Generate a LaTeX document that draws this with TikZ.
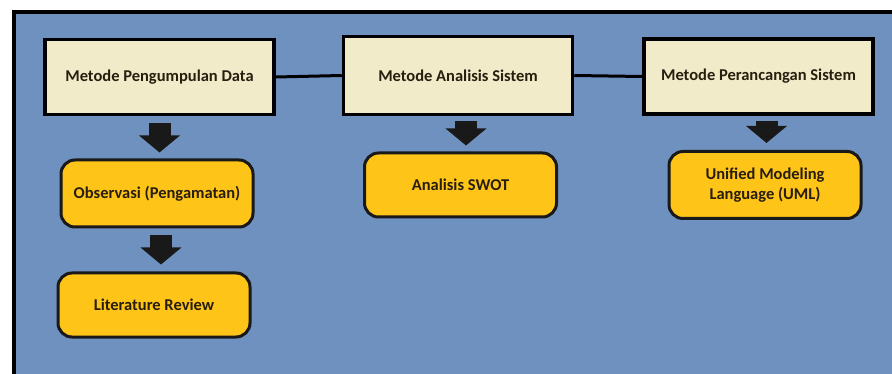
\documentclass[tikz,border=0pt]{standalone}
\usepackage{fontspec}
\setmainfont{Carlito}
\usetikzlibrary{arrows.meta}
\definecolor{bgblue}{RGB}{111,145,191}
\definecolor{krem}{RGB}{242,235,201}
\definecolor{emas}{RGB}{254,196,24}
\definecolor{tinta}{RGB}{40,30,15}

\begin{document}
\begin{tikzpicture}[x=1pt,y=-1pt,
		metode/.style={draw=black,fill=krem,line width=3.5pt,minimum width=229pt,minimum height=75pt,text=tinta,font=\fontsize{16.5}{18}\selectfont\bfseries},
		hasil/.style={draw=black!90,fill=emas,line width=3pt,rounded corners=14pt,minimum width=192pt,minimum height=64pt,text=tinta,align=center,font=\fontsize{16.5}{20}\selectfont\bfseries},
		panah/.style={line width=22pt,black!90,-{Triangle[length=17pt,width=40pt]}},
		garis/.style={line width=3pt}]
		\useasboundingbox (0,0) rectangle (892,374);
		\fill[white] (0,0) rectangle (892,374);
		\fill[bgblue] (14,12) rectangle (892,374);
		\draw[line width=3.5pt] (14,374) -- (14,12) -- (892,12);

		\node[metode] (m1) at (159.5,77) {Metode Pengumpulan Data};
		\node[metode,minimum height=78pt] (m2) at (458,75.5) {Metode Analisis Sistem};
		\node[metode] (m3) at (758.5,76.5) {Metode Perancangan Sistem};

		\draw[garis] (m1.east) -- (m2.west);
		\draw[garis] (m2.east) -- (m3.west);

		\node[hasil,minimum height=67pt] (obs) at (157,193.5) {Observasi (Pengamatan)};
		\node[hasil] (lit) at (154,305) {Literature Review};
		\node[hasil] (swot) at (460.5,185) {Analisis SWOT};
		\node[hasil,minimum height=67pt] (uml) at (765,185) {Unified Modeling\\Language (UML)};

		\draw[panah] ([yshift=-7pt]m1.south) -- ([yshift=6pt]m1.south |- obs.north);
		\draw[panah] ([xshift=4pt,yshift=-7pt]obs.south) -- ([xshift=4pt,yshift=7pt]obs.south |- lit.north);
		\draw[panah] ([xshift=8pt,yshift=-5pt]m2.south) -- ([xshift=8pt,yshift=6pt]m2.south |- swot.north);
		\draw[panah] ([xshift=8pt,yshift=-5pt]m3.south) -- ([xshift=8pt,yshift=7pt]m3.south |- uml.north);
	\end{tikzpicture}
\end{document}
